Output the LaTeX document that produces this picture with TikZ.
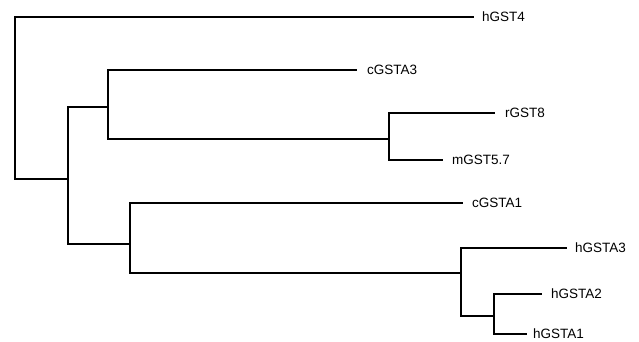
\documentclass[tikz,border=0pt]{standalone}
\usepackage{fontspec}
\setmainfont{Liberation Sans}
\begin{document}
\begin{tikzpicture}[x=1pt,y=-1pt,
  branch/.style={line width=2.6pt, line cap=butt, line join=miter},
  leaf/.style={anchor=west, inner sep=0pt, font=\fontsize{13.5}{15}\selectfont}]
\useasboundingbox (0,0) rectangle (639,341);
% internal nodes
\coordinate (A) at (15,98);
\coordinate (B) at (68,179);
\coordinate (C) at (108,107);
\coordinate (E) at (389,139);
\coordinate (D) at (130,244);
\coordinate (F) at (461,273);
\coordinate (G) at (494,316);
% leaf ends
\coordinate (e1) at (474,17);
\coordinate (e2) at (357,70);
\coordinate (e3) at (495,113);
\coordinate (e4) at (443,160);
\coordinate (e5) at (463,203);
\coordinate (e6) at (567,248);
\coordinate (e7) at (542,294);
\coordinate (e8) at (527,334);
% labels
\node[leaf] (hGST4) at (482,17) {hGST4};
\node[leaf] (cGSTA3) at (367,70) {cGSTA3};
\node[leaf] (rGST8) at (505,113) {rGST8};
\node[leaf] (mGST57) at (452,160) {mGST5.7};
\node[leaf] (cGSTA1) at (472,203) {cGSTA1};
\node[leaf] (hGSTA3) at (575,248) {hGSTA3};
\node[leaf] (hGSTA2) at (551,294) {hGSTA2};
\node[leaf] (hGSTA1) at (533,334) {hGSTA1};
% branches
\draw[branch] (A) |- (e1);
\draw[branch] (A) |- (B);
\draw[branch] (B) |- (C);
\draw[branch] (B) |- (D);
\draw[branch] (C) |- (e2);
\draw[branch] (C) |- (E);
\draw[branch] (E) |- (e3);
\draw[branch] (E) |- (e4);
\draw[branch] (D) |- (e5);
\draw[branch] (D) |- (F);
\draw[branch] (F) |- (e6);
\draw[branch] (F) |- (G);
\draw[branch] (G) |- (e7);
\draw[branch] (G) |- (e8);
\end{tikzpicture}
\end{document}
